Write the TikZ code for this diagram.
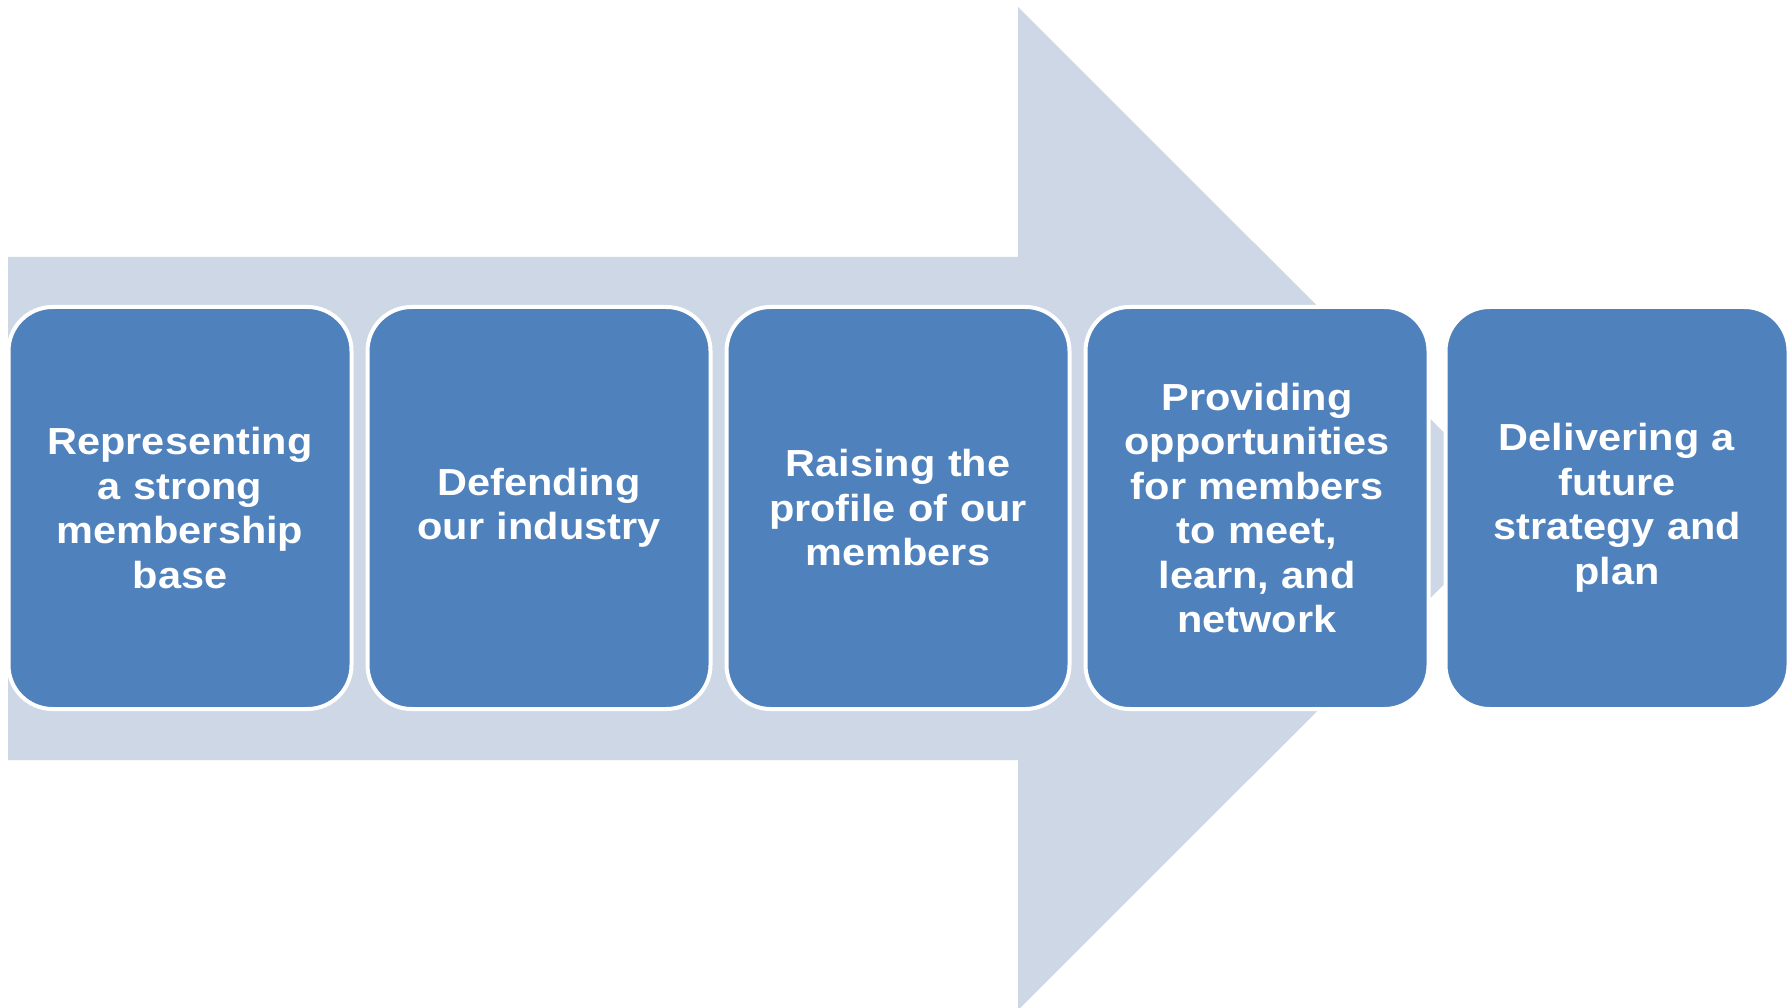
\documentclass[tikz,border=0pt]{standalone}
\usepackage{fontspec}
\newfontfamily\boxfont[FakeStretch=1.1]{Liberation Sans}
\definecolor{arrowfill}{HTML}{CDD7E6}
\definecolor{boxblue}{HTML}{4F81BD}
\begin{document}
\begin{tikzpicture}[x=1pt,y=-1pt,
  stagebox/.style={rectangle, rounded corners=44pt, draw=white, line width=4pt,
    fill=boxblue, minimum width=343pt, minimum height=402pt, inner sep=0pt,
    text=white, align=center, text width=335pt,
    font=\boxfont\bfseries\fontsize{37.7pt}{44.5pt}\selectfont}]
\useasboundingbox (0,0) rectangle (1791,1008);
\fill[white] (0,0) rectangle (1791,1008);
% big arrow
\fill[arrowfill] (8,257) -- (1018,257) -- (1018,7) -- (1520,508.5)
  -- (1018,1010) -- (1018,760) -- (8,760) -- cycle;
% stages
\node[stagebox] (s1) at (180,508) {Representing\\a strong\\membership\\base};
\node[stagebox] (s2) at (539,508) {Defending\\our industry};
\node[stagebox] (s3) at (898,508) {Raising the\\profile of our\\members};
\node[stagebox] (s4) at (1257,508) {Providing\\opportunities\\for members\\to meet,\\learn, and\\network};
\node[stagebox] (s5) at (1617,508) {Delivering a\\future\\strategy and\\plan};
\end{tikzpicture}
\end{document}
